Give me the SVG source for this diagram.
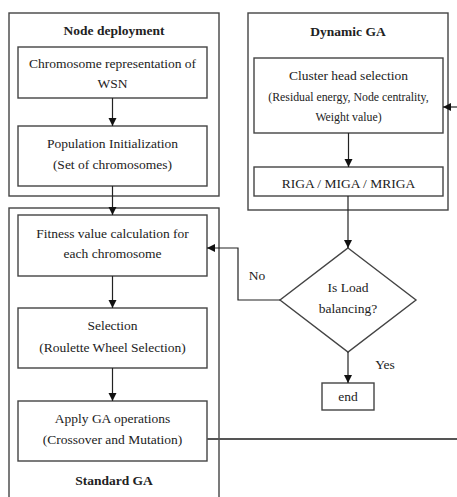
<svg xmlns="http://www.w3.org/2000/svg" width="457" height="497" viewBox="0 0 457 497" font-family="'Liberation Serif', 'Times New Roman', Times, serif">
<defs>
<marker id="ah" markerWidth="8" markerHeight="10" refX="8" refY="4" orient="auto" markerUnits="userSpaceOnUse">
<path d="M0,0 L8,4 L0,8 Z" fill="#111"/>
</marker>
<style>
.box{fill:#fff;stroke:#444;stroke-width:1.4}
.grp{fill:none;stroke:#444;stroke-width:1.4}
.t{font-size:13.5px;fill:#222;text-anchor:middle}
.s{font-size:11.8px}
.b{font-weight:bold}
.c{fill:none;stroke:#222;stroke-width:1.2}
.thick{fill:none;stroke:#555;stroke-width:2}
</style>
</defs>
<rect width="457" height="497" fill="#fff"/>
<g id="node-deployment">
<rect class="grp" x="9" y="13" width="210" height="183"/>
<text class="t b" x="114" y="35">Node deployment</text>
</g>
<g id="chromosome">
<rect class="box" x="18" y="47" width="189" height="51"/>
<text class="t" x="112.5" y="68">Chromosome representation of</text>
<text class="t" x="112.5" y="88">WSN</text>
</g>
<g id="population">
<rect class="box" x="18" y="126" width="189" height="60"/>
<text class="t" x="112.5" y="148">Population Initialization</text>
<text class="t" x="112.5" y="169">(Set of chromosomes)</text>
</g>
<g id="standard-ga">
<rect class="grp" x="9" y="208" width="210" height="300"/>
<text class="t b" x="114" y="485">Standard GA</text>
</g>
<g id="fitness">
<rect class="box" x="18" y="215" width="189" height="61"/>
<text class="t" x="112.5" y="238">Fitness value calculation for</text>
<text class="t" x="112.5" y="258">each chromosome</text>
</g>
<g id="selection">
<rect class="box" x="18" y="308" width="189" height="60"/>
<text class="t" x="112.5" y="330">Selection</text>
<text class="t" x="112.5" y="352">(Roulette Wheel Selection)</text>
</g>
<g id="apply-ga">
<rect class="box" x="18" y="401" width="189" height="60"/>
<text class="t" x="112.5" y="423">Apply GA operations</text>
<text class="t" x="112.5" y="444">(Crossover and Mutation)</text>
</g>
<g id="dynamic-ga">
<rect class="grp" x="248" y="13" width="200" height="197"/>
<text class="t b" x="348" y="36">Dynamic GA</text>
</g>
<g id="cluster-head">
<rect class="box" x="254" y="58" width="189" height="75"/>
<text class="t" x="348.5" y="80">Cluster head selection</text>
<text class="t s" x="348.5" y="101">(Residual energy, Node centrality,</text>
<text class="t s" x="348.5" y="121">Weight value)</text>
</g>
<g id="riga">
<rect class="box" x="254" y="167" width="189" height="29"/>
<text class="t" x="348.5" y="188">RIGA / MIGA / MRIGA</text>
</g>
<g id="load-balancing">
<polygon class="box" points="348,248 416,300 348,352 280,300"/>
<text class="t" x="348" y="292">Is Load</text>
<text class="t" x="348" y="313">balancing?</text>
</g>
<g id="end">
<rect class="box" x="322" y="383" width="52" height="27"/>
<text class="t" x="348" y="401">end</text>
</g>
<g id="connectors">
<line class="c" x1="112.5" y1="98" x2="112.5" y2="126" marker-end="url(#ah)"/>
<line class="c" x1="112.5" y1="186" x2="112.5" y2="215" marker-end="url(#ah)"/>
<line class="c" x1="112.5" y1="276" x2="112.5" y2="308" marker-end="url(#ah)"/>
<line class="c" x1="112.5" y1="368" x2="112.5" y2="401" marker-end="url(#ah)"/>
<line class="c" x1="348.5" y1="133" x2="348.5" y2="167" marker-end="url(#ah)"/>
<line class="c" x1="348" y1="196" x2="348" y2="248" marker-end="url(#ah)"/>
<line class="c" x1="348" y1="352" x2="348" y2="383" marker-end="url(#ah)"/>
<polyline class="c" points="280,300 238,300 238,248 207,248" marker-end="url(#ah)"/>
<line class="thick" x1="207" y1="439" x2="457" y2="439"/>
<line class="c" x1="457" y1="107" x2="443" y2="107" marker-end="url(#ah)"/>
<text class="t" x="257" y="280">No</text>
<text class="t" x="385" y="369">Yes</text>
</g>
</svg>
